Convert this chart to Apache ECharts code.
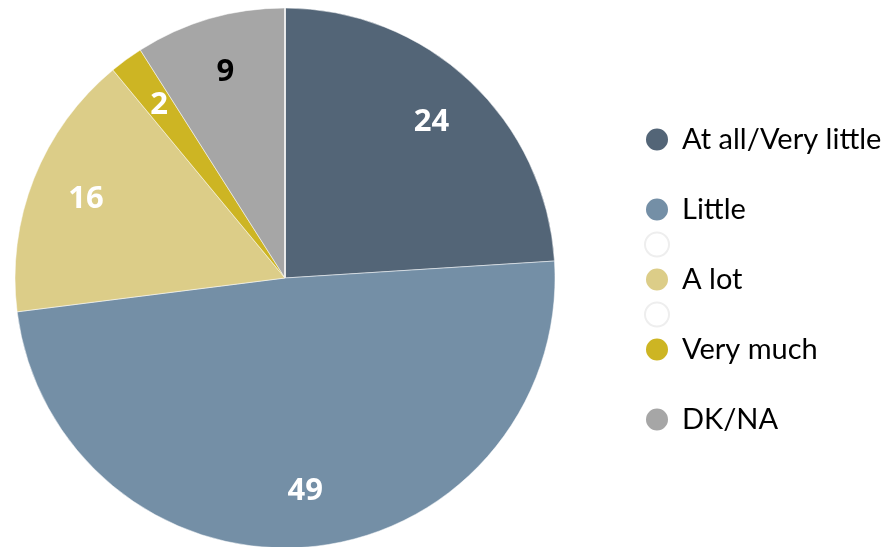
<!DOCTYPE html>
<html>
<head>
<meta charset="utf-8">
<script src="https://cdn.jsdelivr.net/npm/echarts@6/dist/echarts.min.js"></script>
<style>
  html, body { margin: 0; padding: 0; background: #fff; }
  #chart { width: 890px; height: 547px; }
</style>
</head>
<body>
<div id="chart"></div>
<script>
// 数据
var categories = ['At all/Very little', 'Little', 'A lot', 'Very much', 'DK/NA'];
var values = [24, 49, 16, 2, 9];
var colors = ['#536577', '#748fa6', '#dccd88', '#cdb523', '#a6a6a6'];
var labelColors = ['#fff', '#fff', '#fff', '#fff', '#000'];
// 图例里的空白占位项
var legendOrder = ['At all/Very little', ' ', 'Little', '  ', 'A lot', '   ', 'Very much', '    ', 'DK/NA'];
var blankBorder = { ' ': 'rgba(0,0,0,0)', '  ': '#eeeeee', '   ': '#eeeeee', '    ': 'rgba(0,0,0,0)' };

var chart = echarts.init(document.getElementById('chart'));

var sliceData = categories.map(function (c, i) {
  return { name: c, value: values[i], itemStyle: { color: colors[i] } };
});
var blankData = Object.keys(blankBorder).map(function (n) {
  return { name: n, value: 0, itemStyle: { color: '#fff', borderColor: blankBorder[n], borderWidth: 1 }, label: { show: false } };
});
var labelData = categories.map(function (c, i) {
  return { name: c, value: values[i], label: { color: labelColors[i] } };
});

var option = {
  animation: false,
  legend: {
    orient: 'vertical',
    left: 639,
    top: 120,
    itemWidth: 24,
    itemHeight: 24,
    itemGap: 6,
    icon: 'circle',
    selectedMode: false,
    data: legendOrder,
    textStyle: {
      fontFamily: 'Lato',
      fontSize: 29,
      color: '#000',
      padding: [0, 0, 0, 8]
    }
  },
  series: [
    {
      type: 'pie',
      center: [285, 278],
      radius: 270,
      startAngle: 90,
      clockwise: true,
      label: { show: false },
      labelLine: { show: false },
      itemStyle: { borderColor: '#fff', borderWidth: 0.5 },
      emphasis: { disabled: true },
      data: sliceData.concat(blankData)
    },
    {
      // 只用来放标签
      type: 'pie',
      center: [285, 278],
      radius: [152, 270],
      startAngle: 90,
      clockwise: true,
      silent: true,
      itemStyle: { color: 'rgba(0,0,0,0)' },
      label: {
        show: true,
        position: 'inside',
        formatter: '{c}',
        fontFamily: 'Open Sans',
        fontWeight: 'bold',
        fontSize: 31
      },
      labelLine: { show: false },
      emphasis: { disabled: true },
      data: labelData
    }
  ]
};

chart.setOption(option);
</script>
</body>
</html>
